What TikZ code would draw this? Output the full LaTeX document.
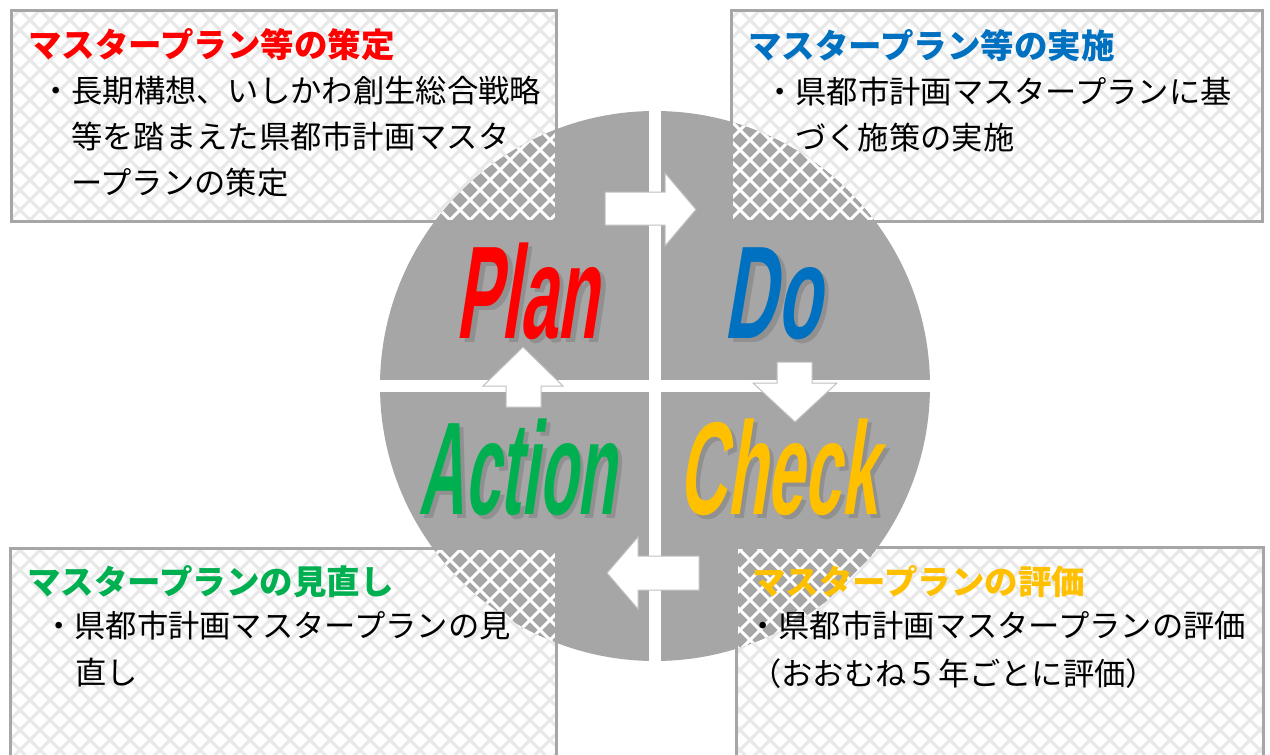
\documentclass[tikz,border=0pt]{standalone}
\usepackage{fontspec}
\newfontfamily\jp{Noto Sans CJK JP}
\newfontfamily\pdca[FakeSlant=0.3]{Liberation Sans Bold}
\definecolor{cgray}{HTML}{A6A6A6}
\definecolor{hlight}{HTML}{E8E8E8}
\definecolor{pred}{HTML}{FF0000}
\definecolor{pblue}{HTML}{0070C0}
\definecolor{pgreen}{HTML}{00B050}
\definecolor{pyellow}{HTML}{FFC000}
\definecolor{arrline}{HTML}{BFBFBF}
\definecolor{shgray}{HTML}{909090}
\newcommand\hatchlines[1]{%
  \foreach \i in {-800,-780,...,1300}{\draw[#1,line width=3pt] (\i,-10) -- ++(800,800);}%
  \foreach \i in {0,20,...,2100}{\draw[#1,line width=3pt] (\i,-10) -- ++(-800,800);}%
}
\tikzset{
  ttl/.style={anchor=base west, inner sep=0pt, font=\jp\bfseries\fontsize{33.5}{33.5}\selectfont},
  bdy/.style={anchor=base west, inner sep=0pt, text=black, font=\jp\fontsize{31.3}{31.3}\selectfont},
  pdcaw/.style={anchor=base, inner sep=0pt},
  boxline/.style={draw=cgray, line width=3pt},
  arrshape/.style={fill=white, draw=arrline, line width=1pt, line join=miter},
  gap/.style={fill=white},
}
% word with its drop shadow, squeezed horizontally
\newcommand\pdcatext[3]{\scalebox{#1}[1]{\pdca\fontsize{132}{132}\selectfont
  \rlap{\hspace*{8pt}\raisebox{-4pt}{\textcolor{shgray}{#3}}}\textcolor{#2}{#3}}}
\begin{document}
\begin{tikzpicture}[x=1pt,y=-1pt]
\useasboundingbox (0,0) rectangle (1270,755);
\clip (0,0) rectangle (1270,755);
\fill[white] (0,0) rectangle (1270,755);
\coordinate (c) at (655,386);
\fill[cgray] (c) circle[radius=275pt];
% hatched boxes
\begin{scope}
  \clip (11,10) rectangle (556,221) (731,10) rectangle (1262,221) (10,548) rectangle (556,770) (736,547) rectangle (1263,770);
  \fill[white] (0,0) rectangle (1270,760);
  \hatchlines{hlight}
  \clip (c) circle[radius=275pt];
  \fill[cgray] (c) circle[radius=275pt];
  \hatchlines{white}
\end{scope}
\draw[boxline] (11,10) rectangle (556,221);
\draw[boxline] (731,10) rectangle (1262,221);
\draw[boxline] (10,548) rectangle (556,780);
\draw[boxline] (736,547) rectangle (1263,780);
% white cross
\fill[gap] (649,100) rectangle (661,670);
\fill[gap] (370,380) rectangle (940,392);
% arrows
\draw[arrshape] (605,192) -- (665,192) -- (665,173) -- (696,209.5) -- (665,246) -- (665,225) -- (605,225) -- cycle;
\draw[arrshape] (777,362) -- (812,362) -- (812,383) -- (837,383) -- (795,422) -- (753,383) -- (777,383) -- cycle;
\draw[arrshape] (607,573) -- (638,537) -- (638,556) -- (699,556) -- (699,590) -- (638,590) -- (638,609) -- cycle;
\draw[arrshape] (523,347) -- (563,386) -- (541,386) -- (541,407) -- (506,407) -- (506,386) -- (483,386) -- cycle;
% PDCA words
\node[pdcaw] (plan) at (527,338) {\pdcatext{0.51}{pred}{Plan}};
\node[pdcaw] (do) at (772,338) {\pdcatext{0.55}{pblue}{Do}};
\node[pdcaw] (action) at (517,514) {\pdcatext{0.48}{pgreen}{Action}};
\node[pdcaw] (check) at (778,514) {\pdcatext{0.50}{pyellow}{Check}};
% box texts
\node[ttl, text=pred] (t1) at (28,57) {マスタープラン等の策定};
\node[bdy] (t1a) at (40,102) {・長期構想、いしかわ創生総合戦略};
\node[bdy] (t1b) at (71,148) {等を踏まえた県都市計画マスタ};
\node[bdy] (t1c) at (71,194) {ープランの策定};
\node[ttl, text=pblue] (t2) at (748,58) {マスタープラン等の実施};
\node[bdy] (t2a) at (764,103) {・県都市計画マスタープランに基};
\node[bdy] (t2b) at (795,149) {づく施策の実施};
\node[ttl, text=pgreen] (t3) at (27,594) {マスタープランの見直し};
\node[bdy] (t3a) at (43,637) {・県都市計画マスタープランの見};
\node[bdy] (t3b) at (75,684) {直し};
\node[ttl, text=pyellow] (t4) at (752,594) {マスタープランの評価};
\node[bdy] (t4a) at (747,637) {・県都市計画マスタープランの評価};
\node[bdy] (t4b) at (750,685) {（おおむね５年ごとに評価）};
\end{tikzpicture}
\end{document}
